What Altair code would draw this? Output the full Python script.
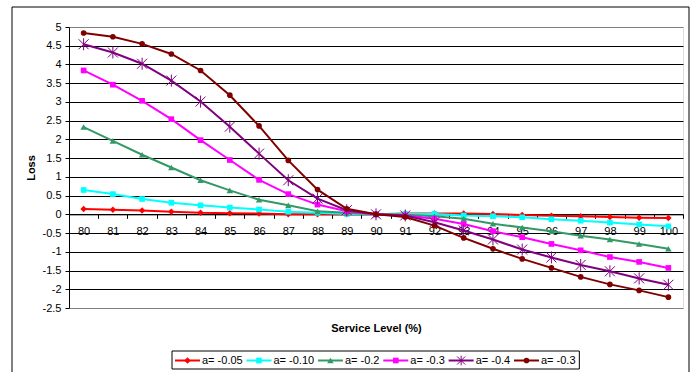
import altair as alt
import pandas as pd

# Service level categories on the x axis
service_level = [80, 81, 82, 83, 84, 85, 86, 87, 88, 89, 90,
                 91, 92, 93, 94, 95, 96, 97, 98, 99, 100]

series_names = ["a= -0.05", "a= -0.10", "a= -0.2", "a= -0.3", "a= -0.4", "a= -0.3"]

loss_a005 = [0.14, 0.12, 0.10, 0.07, 0.04, 0.03, 0.02, 0.00, 0.00, 0.00, 0.00,
             0.02, 0.02, 0.02, 0.01, -0.02, -0.04, -0.05, -0.07, -0.09, -0.10]
loss_a010 = [0.65, 0.54, 0.41, 0.31, 0.24, 0.18, 0.13, 0.07, 0.04, 0.01, 0.00,
             0.01, 0.01, -0.03, -0.05, -0.08, -0.13, -0.17, -0.22, -0.27, -0.32]
loss_a02 = [2.33, 1.96, 1.59, 1.25, 0.91, 0.64, 0.39, 0.24, 0.08, 0.04, 0.00,
            -0.01, -0.05, -0.12, -0.25, -0.35, -0.45, -0.57, -0.67, -0.79, -0.92]
loss_a03 = [3.84, 3.46, 3.03, 2.54, 1.98, 1.45, 0.92, 0.54, 0.26, 0.08, 0.00,
            -0.03, -0.12, -0.26, -0.45, -0.61, -0.79, -0.96, -1.14, -1.27, -1.43]
loss_a04 = [4.54, 4.32, 4.02, 3.57, 3.01, 2.34, 1.62, 0.91, 0.42, 0.11, 0.00,
            -0.03, -0.21, -0.43, -0.67, -0.94, -1.15, -1.35, -1.52, -1.71, -1.88]
loss_a03b = [4.84, 4.74, 4.55, 4.28, 3.84, 3.18, 2.36, 1.44, 0.66, 0.15, 0.00,
             -0.07, -0.30, -0.63, -0.92, -1.19, -1.43, -1.67, -1.87, -2.03, -2.21]

y_ticks = [-2.5, -2, -1.5, -1, -0.5, 0, 0.5, 1, 1.5, 2, 2.5, 3, 3.5, 4, 4.5, 5]

all_losses = [loss_a005, loss_a010, loss_a02, loss_a03, loss_a04, loss_a03b]

# Per-series styling (colour, marker shape, marker size, filled)
ASTERISK = "M-1,-1L1,1M-1,1L1,-1M0,-1.2L0,1.2"
styles = [
    ("#FF0000", "diamond", 42, True),
    ("#00FFFF", "square", 32, True),
    ("#339966", "triangle-up", 42, True),
    ("#FF00FF", "square", 32, True),
    ("#800080", ASTERISK, 100, False),
    ("#800000", "circle", 32, True),
]

FONT = "Liberation Sans"
W, H = 614, 281
Y_MIN, Y_MAX = -2.5, 5
zero_px = H * Y_MAX / (Y_MAX - Y_MIN)

x_enc = alt.X(
    "level:O",
    scale=alt.Scale(type="band", paddingInner=0, paddingOuter=0),
    axis=alt.Axis(
        offset=-(H - zero_px),
        tickBand="extent",
        grid=False,
        labelAngle=0,
        labelFontSize=11,
        labelColor="black",
        labelPadding=7,
        labelOverlap=False,
        tickSize=4,
        tickColor="black",
        domainColor="black",
        title="Service Level (%)",
        titleFontSize=11,
        titleFontWeight="bold",
        titleColor="black",
        titleX=W / 2,
        titleY=301 - zero_px,
        titleBaseline="middle",
    ),
)
y_enc = alt.Y(
    "loss:Q",
    scale=alt.Scale(domain=[Y_MIN, Y_MAX], nice=False, zero=False),
    axis=alt.Axis(
        values=y_ticks,
        labelExpr="datum.value + ''",
        labelFontSize=11,
        labelColor="black",
        labelPadding=4,
        tickSize=4,
        tickColor="black",
        domainColor="black",
        grid=True,
        gridColor={"condition": {"test": "datum.value === 5 || datum.value === -2.5",
                                 "value": "#808080"}, "value": "black"},
        gridWidth=1,
        title="Loss",
        titleFontSize=11,
        titleFontWeight="bold",
        titleColor="black",
        titleX=-38,
        titleY=H / 2,
        titleAngle=-90,
        titleAlign="center",
        titleBaseline="middle",
    ),
)

one_row = alt.Data(values=[{"k": 0}])

# Outer chart frame
frame = alt.Chart(one_row).mark_rect(fillOpacity=0, stroke="black", strokeWidth=1).encode(
    x=alt.value(-57), x2=alt.value(620), y=alt.value(-20), y2=alt.value(360)
)

layers = [frame]
for name, losses, (color, shape, size, filled) in zip(series_names, all_losses, styles):
    df = pd.DataFrame({"level": service_level, "loss": losses, "series": name})
    line = alt.Chart(df).mark_line(color=color, strokeWidth=2).encode(x=x_enc, y=y_enc)
    if filled:
        pts = alt.Chart(df).mark_point(shape=shape, size=size, filled=True, color=color,
                                       opacity=1).encode(x=x_enc, y=y_enc)
    else:
        pts = alt.Chart(df).mark_point(shape=shape, size=size, filled=False, color=color,
                                       strokeWidth=1, opacity=1).encode(x=x_enc, y=y_enc)
    layers += [line, pts]

# Legend: drawn as line + marker + label entries inside a bordered box
CHAR_W = {"a": 0.556, "=": 0.584, " ": 0.278, "-": 0.333, ".": 0.278}


def text_width(s, size=11):
    return sum(CHAR_W.get(c, 0.556) for c in s) * size


LEG_Y = 333.5
SEG = 25
GAP = 3.8
x_cursor = 106.0
leg_layers = []
for name, (color, shape, size, filled) in zip(series_names, styles):
    x0, x1 = x_cursor, x_cursor + SEG
    seg = alt.Chart(one_row).mark_rule(color=color, strokeWidth=2).encode(
        x=alt.value(x0), x2=alt.value(x1), y=alt.value(LEG_Y)
    )
    mk = alt.Chart(one_row).mark_point(
        shape=shape, size=size if filled else 64, filled=filled, color=color, opacity=1,
        strokeWidth=1,
    ).encode(x=alt.value((x0 + x1) / 2), y=alt.value(LEG_Y))
    lab = alt.Chart(one_row).mark_text(
        align="left", baseline="middle", fontSize=11, font=FONT, color="black"
    ).encode(x=alt.value(x1 + 2), y=alt.value(LEG_Y + 0.5), text=alt.value(name))
    leg_layers += [seg, mk, lab]
    x_cursor = x1 + 2 + text_width(name) + GAP

leg_box = alt.Chart(one_row).mark_rect(fill="white", stroke="black", strokeWidth=1).encode(
    x=alt.value(103), x2=alt.value(x_cursor), y=alt.value(324), y2=alt.value(342)
)

chart = alt.layer(*layers, leg_box, *leg_layers).properties(
    width=W,
    height=H,
    autosize=alt.AutoSizeParams(type="none"),
    padding={"left": 69, "top": 27, "right": 15, "bottom": 64},
    background="white",
).configure_view(
    stroke="#808080", strokeWidth=1
).configure(font=FONT)

chart.save("out.html", embed_options={"renderer": "svg", "actions": False})
